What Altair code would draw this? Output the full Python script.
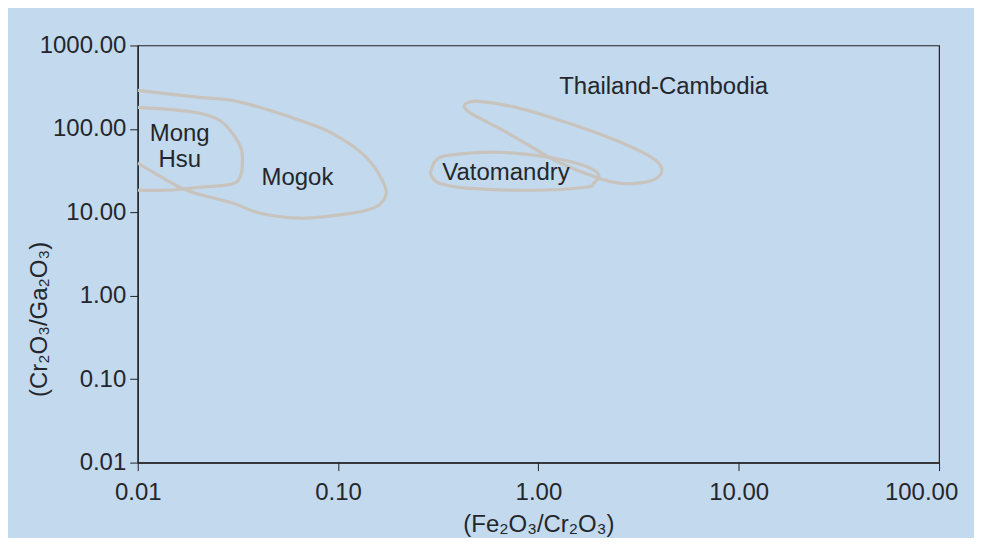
import altair as alt
import pandas as pd

# ---- data (log-log coordinates) ----
mogok_x = [0.01, 0.0204, 0.0297, 0.0455, 0.0641, 0.0935, 0.1384, 0.166, 0.174, 0.160, 0.1384, 0.0903, 0.0641, 0.0405, 0.0297, 0.01754, 0.0129, 0.01]
mogok_y = [290, 239, 220, 167, 127, 88.5, 45.7, 24.3, 17.0, 12.2, 10.6, 9.0, 8.5, 9.8, 12.9, 18.4, 27.1, 38.8]

monghsu_x = [0.01, 0.0204, 0.0256, 0.0297, 0.033, 0.0333, 0.033, 0.0311, 0.0204, 0.0139, 0.01]
monghsu_y = [181, 154, 127, 88.5, 55.5, 38.8, 30.3, 23.0, 20.0, 18.4, 18.4]

thai_x = [0.4355, 0.506, 0.773, 1.371, 2.43, 3.67, 4.12, 3.89, 3.17, 2.52, 2.0, 1.265, 0.897, 0.635, 0.477, 0.4305]
thai_y = [202, 214, 181, 120, 73, 45.7, 33.8, 25.6, 22.4, 22.4, 25.6, 39.8, 63.7, 102, 146, 176]

vato_x = [0.2914, 0.308, 0.358, 0.635, 1.128, 1.725, 2.0, 1.89, 1.725, 0.929, 0.4355, 0.319, 0.2914]
vato_y = [32, 42, 48.3, 52.5, 45.7, 35.7, 27.9, 22.4, 20.0, 18.4, 19.5, 22.4, 27.9]

label_text = ["Mong", "Hsu", "Mogok", "Vatomandry", "Thailand-Cambodia"]
label_x = [0.0162, 0.0162, 0.0627, 0.689, 4.22]
label_y = [86, 42, 25.6, 29.4, 315]

x_ticks = [0.01, 0.1, 1, 10, 100]
y_ticks = [0.01, 0.1, 1, 10, 100, 1000]

BG = "#c3d9ee"
LINE = "#c8c4bd"
TXT = "#23272b"
FONT = "Liberation Sans"


def rows(name, xs, ys):
    return [{"region": name, "x": a, "y": b, "i": k} for k, (a, b) in enumerate(zip(xs, ys))]


open_df = pd.DataFrame(rows("Mogok", mogok_x, mogok_y) + rows("Mong Hsu", monghsu_x, monghsu_y))
closed_df = pd.DataFrame(rows("Thailand-Cambodia", thai_x, thai_y) + rows("Vatomandry", vato_x, vato_y))
lab_df = pd.DataFrame({"t": label_text, "x": label_x, "y": label_y})

xscale = alt.Scale(type="log", domain=[0.01, 100], nice=False)
yscale = alt.Scale(type="log", domain=[0.01, 1000], nice=False)

xaxis = alt.Axis(
    values=x_ticks, format=".2f", title="(Fe₂O₃/Cr₂O₃)", grid=False,
    labelFontSize=24, titleFontSize=24, labelPadding=10, titlePadding=8,
    tickSize=8, labelFlush=False, labelOverlap=False,
    labelOffset={"condition": {"test": "datum.value >= 100", "value": -18}, "value": 0},
)
yaxis = alt.Axis(
    values=y_ticks, format=".2f", title="(Cr₂O₃/Ga₂O₃)", grid=False,
    labelFontSize=24, titleFontSize=24, labelPadding=4, tickSize=8,
    titleX=-98, titleY=274, titleAlign="center", titleBaseline="middle",
    labelOverlap=False, labelFlush=False,
)

open_lines = alt.Chart(open_df).mark_line(
    interpolate="catmull-rom", color=LINE, strokeWidth=3.2, clip=True
).encode(
    x=alt.X("x:Q", scale=xscale, axis=xaxis),
    y=alt.Y("y:Q", scale=yscale, axis=yaxis),
    detail="region:N",
    order="i:Q",
)

closed_lines = alt.Chart(closed_df).mark_line(
    interpolate="cardinal-closed", color=LINE, strokeWidth=3.2, clip=True
).encode(
    x=alt.X("x:Q", scale=xscale),
    y=alt.Y("y:Q", scale=yscale),
    detail="region:N",
    order="i:Q",
)

labels = alt.Chart(lab_df).mark_text(
    fontSize=24, color=TXT, font=FONT, align="center", baseline="middle"
).encode(
    x=alt.X("x:Q", scale=xscale),
    y=alt.Y("y:Q", scale=yscale),
    text="t:N",
)

chart = alt.layer(open_lines, closed_lines, labels).properties(
    width=803,
    height=418,
    background=BG,
    padding={"left": 130, "top": 37, "right": 35, "bottom": 75},
    autosize=alt.AutoSizeParams(type="none"),
).configure_view(
    stroke="#222222", strokeWidth=1.2, fill=BG
).configure_axis(
    domainColor="#222222", tickColor="#222222", labelColor=TXT, titleColor=TXT,
    labelFont=FONT, titleFont=FONT, titleFontWeight="normal", domainWidth=1.2,
)

chart.save("out.html", embed_options={"renderer": "svg", "actions": False})
